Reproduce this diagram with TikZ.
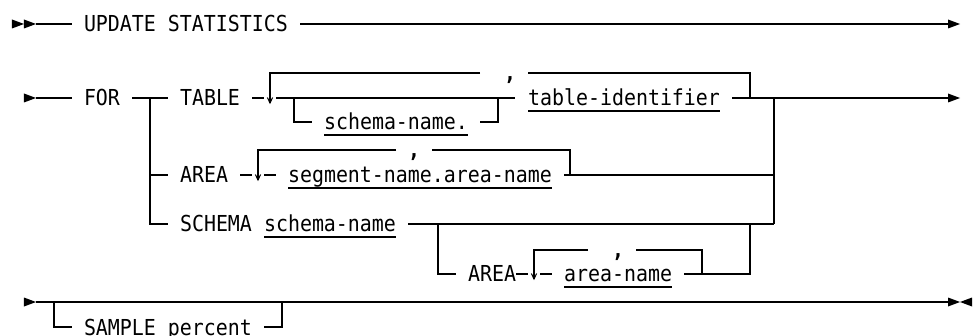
\documentclass[tikz,border=0pt]{standalone}
\usepackage{fontspec}
\newfontfamily\diagfont{DejaVu Sans Mono}[FakeStretch=0.906]
\begin{document}
% Syntax diagram on a character grid: one x unit = one 12pt character cell,
% y runs downward in points.
\begin{tikzpicture}[x=12pt, y=-1pt,
  rail/.style={line width=1.2pt},
  head/.style={line width=1pt},
  txt/.style={anchor=base west, inner sep=0pt, outer sep=0pt,
              font=\diagfont\fontsize{22pt}{26pt}\selectfont},
  sep/.style={txt, font=\diagfont\bfseries\fontsize{22pt}{26pt}\selectfont},
  var/.style={txt, append after command={
      \pgfextra{\draw[rail] ([yshift=-5pt]\tikzlastnode.base west) --
                            ([yshift=-5pt]\tikzlastnode.base east);}}}]
\useasboundingbox (-7,0) rectangle (74.0833,336);

% ---- statement start -------------------------------------------------------
\fill (-6,19.5) -- (-5,24) -- (-6,28.5) -- cycle;
\fill (-5,19.5) -- (-4,24) -- (-5,28.5) -- cycle;
\draw[rail] (-4,24) -- (-1,24);
\node[txt] (upd) at (0,32) {UPDATE STATISTICS};
\draw[rail] (18,24) -- (72,24);
\fill (72,19.5) -- (73,24) -- (72,28.5) -- cycle;

% ---- FOR line ----------------------------------------------------------------
\fill (-5,93.5) -- (-4,98) -- (-5,102.5) -- cycle;
\draw[rail] (-4,98) -- (-1,98);
\node[txt] (for) at (0,106) {FOR};
\draw[rail] (4,98) -- (7,98);
\draw[rail] (5.5,98) -- (5.5,224) -- (7,224);
\draw[rail] (57.5,98) -- (57.5,224);

% TABLE branch
\node[txt] (table) at (8,106) {TABLE};
\draw[rail] (14,98) -- (15,98);
\draw[rail] (33,73) -- (15.5,73) -- (15.5,103);
\draw[head] (15.28,97.5) -- (15.5,103) -- (15.72,97.5);
\node[sep] (c1) at (35,81) {,};
\draw[rail] (37,73) -- (55.5,73) -- (55.5,98);
\draw[rail] (16,98) -- (35.9,98);
\draw[rail] (17.5,98) -- (17.5,122) -- (19,122);
\node[var] (sch1) at (20,130) {schema-name.};
\draw[rail] (33,122) -- (34.5,122) -- (34.5,98);
\node[var] (tid) at (37,106) {table-identifier};
\draw[rail] (54,98) -- (72,98);
\fill (72,93.5) -- (73,98) -- (72,102.5) -- cycle;

% AREA branch
\draw[rail] (5.5,175) -- (7,175);
\node[txt] (area1) at (8,183) {AREA};
\draw[rail] (13,175) -- (14,175);
\draw[rail] (26,150) -- (14.5,150) -- (14.5,180);
\draw[head] (14.28,174.5) -- (14.5,180) -- (14.72,174.5);
\node[sep] (c2) at (27,158) {,};
\draw[rail] (29,150) -- (40.5,150) -- (40.5,175);
\draw[rail] (15,175) -- (16,175);
\node[var] (seg) at (17,183) {segment-name.area-name};
\draw[rail] (40,175) -- (57.5,175);

% SCHEMA branch
\node[txt] (schema) at (8,232) {SCHEMA};
\node[var] (sch2) at (15,232) {schema-name};
\draw[rail] (27,224) -- (57.5,224);
\draw[rail] (29.5,224) -- (29.5,274) -- (31,274);
\node[txt] (area2) at (32,282) {AREA};
\draw[rail] (36,274) -- (37,274);
\draw[rail] (42,250) -- (37.5,250) -- (37.5,279);
\draw[head] (37.28,273.5) -- (37.5,279) -- (37.72,273.5);
\node[sep] (c3) at (44,258) {,};
\draw[rail] (46,250) -- (51.5,250) -- (51.5,274);
\draw[rail] (38,274) -- (39,274);
\node[var] (aname) at (40,282) {area-name};
\draw[rail] (50,274) -- (55.5,274) -- (55.5,224);

% ---- SAMPLE line and statement end -------------------------------------------
\fill (-5,297.5) -- (-4,302) -- (-5,306.5) -- cycle;
\draw[rail] (-4,302) -- (72,302);
\draw[rail] (-2.5,302) -- (-2.5,327) -- (-1,327);
\node[txt] (sample) at (0,335) {SAMPLE percent};
\draw[rail] (15,327) -- (16.5,327) -- (16.5,302);
\fill (72,297.5) -- (73,302) -- (72,306.5) -- cycle;
\fill (74,297.5) -- (73,302) -- (74,306.5) -- cycle;
\end{tikzpicture}
\end{document}
